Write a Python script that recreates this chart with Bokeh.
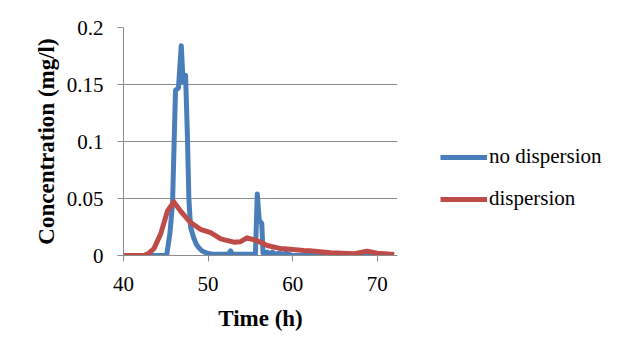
from bokeh.plotting import figure
from bokeh.models import Range1d, FixedTicker, Legend, LegendItem, ColumnDataSource
from bokeh.embed import file_html
from bokeh.resources import INLINE

# Data
t_nodisp = [40, 45.1, 45.5, 45.8, 46.15, 46.5, 46.83, 47.05, 47.34, 47.54, 47.73, 47.93,
            48.28, 48.6, 48.88, 49.3, 49.9, 50.65, 52.4, 52.66, 52.9, 55.6, 55.82, 56.05,
            56.35, 56.5, 57.0, 57.3, 57.6, 58.0, 58.4, 58.8, 59.2, 60, 72]
c_nodisp = [0, 0, 0.02, 0.046, 0.145, 0.147, 0.184, 0.152, 0.158, 0.11, 0.05, 0.025,
            0.016, 0.01, 0.007, 0.004, 0.002, 0.001, 0.001, 0.004, 0.001, 0.001, 0.054, 0.031,
            0.028, 0.002, 0.003, 0.001, 0.003, 0.001, 0.002, 0.001, 0.002, 0, 0]

t_disp = [40, 42.4, 43.0, 43.6, 44.4, 45.2, 45.95, 46.75, 47.9, 49.1, 50.3, 51.5, 53.05,
          53.8, 54.6, 55.8, 57.0, 58.6, 59.0, 61.3, 62.0, 62.9, 64.5, 67.3, 68.8, 70.0, 72.0]
c_disp = [0, 0, 0.002, 0.006, 0.019, 0.039, 0.047, 0.039, 0.029, 0.023, 0.020, 0.0146, 0.0117,
          0.012, 0.0155, 0.013, 0.0088, 0.006, 0.0059, 0.0044, 0.0042, 0.0035, 0.0024, 0.0015,
          0.0038, 0.002, 0.0009]

x_ticks = [40, 50, 60, 70]
y_ticks = [0, 0.05, 0.1, 0.15, 0.2]
y_tick_labels = {0: "0", 0.05: "0.05", 0.1: "0.1", 0.15: "0.15", 0.2: "0.2"}

FONT = "Liberation Serif, Times New Roman, serif"
GRID = "#8c8c8c"

p = figure(frame_width=274, frame_height=228, output_backend="svg", toolbar_location=None,
           x_range=Range1d(40, 72.4), y_range=Range1d(0, 0.2),
           min_border_left=123, min_border_right=222, min_border_top=27, min_border_bottom=85)
p.outline_line_color = None
p.background_fill_color = "white"
p.border_fill_color = "white"

src_n = ColumnDataSource(dict(t=t_nodisp, c=c_nodisp))
src_d = ColumnDataSource(dict(t=t_disp, c=c_disp))
r1 = p.line("t", "c", source=src_n, line_color="#4A7EBB", line_width=5, line_join="round")
r2 = p.line("t", "c", source=src_d, line_color="#BE4B48", line_width=5, line_join="round")

p.xgrid.visible = False
p.ygrid.grid_line_color = GRID
p.ygrid.grid_line_width = 1
p.ygrid.ticker = FixedTicker(ticks=y_ticks)

xa = p.xaxis[0]
xa.ticker = FixedTicker(ticks=x_ticks)
xa.axis_line_color = GRID
xa.major_tick_line_color = GRID
xa.major_tick_out = 6
xa.major_tick_in = 0
xa.minor_tick_line_color = None
xa.major_label_text_font = FONT
xa.major_label_text_font_size = "21px"
xa.major_label_text_color = "black"
xa.major_label_standoff = 15
xa.axis_label = "Time (h)"
xa.axis_label_text_font = FONT
xa.axis_label_text_font_size = "23px"
xa.axis_label_text_font_style = "bold"
xa.axis_label_text_color = "black"
xa.axis_label_standoff = 12

ya = p.yaxis[0]
ya.ticker = FixedTicker(ticks=y_ticks)
ya.major_label_overrides = y_tick_labels
ya.axis_line_color = GRID
ya.major_tick_line_color = GRID
ya.major_tick_out = 6
ya.major_tick_in = 0
ya.minor_tick_line_color = None
ya.major_label_text_font = FONT
ya.major_label_text_font_size = "21px"
ya.major_label_text_color = "black"
ya.major_label_standoff = 14
ya.axis_label = "Concentration (mg/l)"
ya.axis_label_text_font = FONT
ya.axis_label_text_font_size = "23px"
ya.axis_label_text_font_style = "bold"
ya.axis_label_text_color = "black"
ya.axis_label_standoff = 5

legend = Legend(items=[LegendItem(label="no dispersion", renderers=[r1]),
                       LegendItem(label="dispersion", renderers=[r2])],
                location=(43, 44), orientation="vertical",
                glyph_width=47, glyph_height=20, label_height=20, spacing=17,
                label_standoff=2, padding=0, margin=0,
                border_line_color=None, background_fill_alpha=0,
                label_text_font=FONT, label_text_font_size="21px", label_text_color="black")
p.add_layout(legend, "right")

open("out.html", "w").write(file_html(p, INLINE))
